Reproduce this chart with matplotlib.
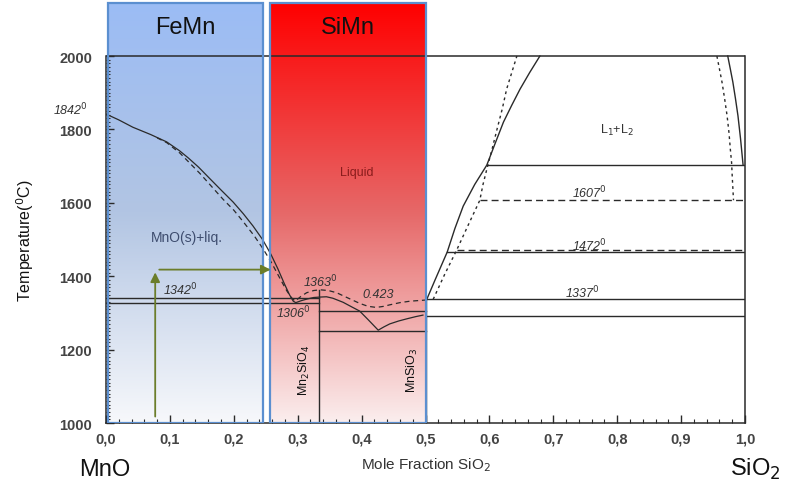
import matplotlib
matplotlib.use("Agg")
import matplotlib.pyplot as plt
from matplotlib.patches import Rectangle
from matplotlib.ticker import FixedLocator, FuncFormatter
import numpy as np

plt.rcParams['font.family'] = ['Liberation Sans', 'DejaVu Sans']

# liquidus on the MnO-rich side and across the silicates (solid)
liq_x = [0.0, 0.02, 0.042, 0.07, 0.095, 0.115, 0.129, 0.145, 0.163, 0.18, 0.199,
         0.215, 0.230, 0.245, 0.258, 0.269, 0.279, 0.287, 0.293, 0.297,
         0.305, 0.315, 0.325, 0.333, 0.345, 0.355, 0.371, 0.385, 0.397, 0.41,
         0.426, 0.435, 0.444, 0.458, 0.471, 0.485, 0.496]
liq_T = [1842, 1826, 1806, 1786, 1766, 1742, 1722, 1697, 1665, 1635, 1602,
         1570, 1537, 1500, 1460, 1420, 1380, 1350, 1332, 1328,
         1333, 1338, 1342, 1343, 1344, 1340, 1329, 1316, 1305, 1282,
         1253, 1262, 1270, 1278, 1284, 1290, 1294]

# calculated liquidus (dashed)
calc_x = [0.08, 0.095, 0.116, 0.147, 0.165, 0.183, 0.2, 0.215, 0.232, 0.246,
          0.258, 0.267, 0.276, 0.283, 0.29, 0.296, 0.305, 0.314, 0.325, 0.335,
          0.348, 0.361, 0.372, 0.382, 0.397, 0.41, 0.423, 0.435, 0.444, 0.46,
          0.476, 0.5]
calc_T = [1777, 1764, 1735, 1680, 1645, 1610, 1580, 1548, 1510, 1474,
          1440, 1411, 1382, 1360, 1342, 1332, 1345, 1355, 1361, 1363,
          1361, 1355, 1346, 1338, 1326, 1318, 1315, 1318, 1322, 1328,
          1332, 1335]

# SiO2-rich side, lower miscibility boundary
sio2_x = [0.502, 0.515, 0.534, 0.546, 0.559, 0.577, 0.596, 0.609, 0.622, 0.635,
          0.648, 0.663, 0.679]
sio2_T = [1337, 1390, 1466, 1530, 1591, 1650, 1703, 1762, 1820, 1866,
          1910, 1955, 2000]
sio2_calc_x = [0.512, 0.53, 0.549, 0.567, 0.585, 0.59, 0.596, 0.604, 0.612, 0.62,
               0.627, 0.635, 0.643]
sio2_calc_T = [1337, 1405, 1472, 1540, 1607, 1650, 1692, 1745, 1801, 1855,
               1910, 1955, 2000]

# upper miscibility boundary near pure SiO2
gap_x = [0.973, 0.977, 0.981, 0.985, 0.989, 0.993, 0.997]
gap_T = [2000, 1965, 1929, 1885, 1837, 1775, 1703]
gap_calc_x = [0.956, 0.96, 0.964, 0.968, 0.972, 0.975, 0.977, 0.979, 0.980, 0.981, 0.982]
gap_calc_T = [2000, 1965, 1929, 1885, 1837, 1790, 1747, 1710, 1673, 1640, 1607]

# invariant lines: (x start, x end, temperature)
iso_solid = [(0.0, 1/3, 1342), (0.0, 1/3, 1326), (1/3, 0.5, 1304), (1/3, 0.5, 1251),
             (0.5, 1.0, 1337), (0.5, 1.0, 1291), (0.534, 1.0, 1466), (0.596, 1.0, 1703)]
iso_dashed = [(0.549, 1.0, 1472), (0.585, 1.0, 1607)]

fig = plt.figure(figsize=(7.91, 4.89), dpi=100)
ax = fig.add_axes([106/791, 65/489, 639/791, 422/489])
ax.set_xlim(0, 1)
ax.set_ylim(1000, 2150)

# shaded composition windows for the two alloys
def gradient_box(x0, x1, stops, label):
    g = np.linspace(0, 1, 256)
    pos = [p for p, _ in stops]
    cols = np.array([matplotlib.colors.to_rgb(c) for _, c in stops])
    img = np.stack([np.interp(g, pos, cols[:, k]) for k in range(3)], axis=1)[:, None, :]
    ax.imshow(img, extent=[x0, x1, 1000, 2145], aspect='auto', origin='upper',
              zorder=1, interpolation='bilinear')
    ax.add_patch(Rectangle((x0, 1000), x1 - x0, 1145, fill=False,
                           edgecolor='#5b8fd0', lw=1.6, zorder=5))
    ax.text((x0 + x1) / 2, 2079, label, ha='center', va='center',
            fontsize=17, color='#111111', zorder=6)

gradient_box(0.003, 0.246, [(0, '#9bbcf5'), (0.5, '#b2c5e3'), (1, '#f7f8fb')], 'FeMn')
gradient_box(0.257, 0.5, [(0, '#ff0000'), (0.5, '#e66868'), (1, '#fbeeee')], 'SiMn')

lc = '#2a2a2a'
ax.plot([0, 1], [2000, 2000], color=lc, lw=1.1, zorder=2)
ax.plot(liq_x, liq_T, color=lc, lw=0.9, zorder=3)
ax.plot(calc_x, calc_T, color=lc, lw=0.9, ls=(0, (4, 3)), zorder=3)
ax.plot(sio2_x, sio2_T, color=lc, lw=1.0, zorder=3)
ax.plot(sio2_calc_x, sio2_calc_T, color=lc, lw=1.0, ls=(0, (2, 2.5)), zorder=3)
ax.plot(gap_x, gap_T, color=lc, lw=1.0, zorder=3)
ax.plot(gap_calc_x, gap_calc_T, color=lc, lw=1.0, ls=(0, (2, 2.5)), zorder=3)
for x0, x1, t in iso_solid:
    ax.plot([x0, x1], [t, t], color=lc, lw=1.0, zorder=3)
for x0, x1, t in iso_dashed:
    ax.plot([x0, x1], [t, t], color=lc, lw=1.0, ls=(0, (5, 3)), zorder=3)

# compound lines
ax.plot([1/3, 1/3], [1000, 1363], color=lc, lw=1.0, zorder=3)
ax.plot([0.5, 0.5], [1000, 1337], color=lc, lw=1.0, zorder=3)

# arrows
arrow_c = '#6b7d2a'
ax.annotate('', xy=(0.077, 1418), xytext=(0.077, 1010),
            arrowprops=dict(arrowstyle='-|>', color=arrow_c, lw=1.3,
                            mutation_scale=14), zorder=6)
ax.annotate('', xy=(0.262, 1418), xytext=(0.079, 1418),
            arrowprops=dict(arrowstyle='-|>', color=arrow_c, lw=1.3,
                            mutation_scale=14), zorder=6)

# labels
it = dict(fontsize=9, style='italic', color='#333333', ha='center', va='center', zorder=6)
ax.text(-0.055, 1856, '1842$^0$', **it)
ax.text(0.116, 1365, '1342$^0$', **it)
ax.text(0.335, 1387, '1363$^0$', **it)
ax.text(0.293, 1302, '1306$^0$', **it)
ax.text(0.426, 1351, '0.423', **it)
ax.text(0.746, 1357, '1337$^0$', **it)
ax.text(0.757, 1486, '1472$^0$', **it)
ax.text(0.757, 1630, '1607$^0$', **it)
ax.text(0.80, 1801, 'L$_1$+L$_2$', fontsize=9, color='#333333', ha='center', va='center')
ax.text(0.393, 1684, 'Liquid', fontsize=9, color='#8a1c1c', ha='center', va='center', zorder=6)
ax.text(0.127, 1507, 'MnO(s)+liq.', fontsize=10, color='#3d4c6e', ha='center', va='center', zorder=6)
ax.text(0.311, 1147, 'Mn$_2$SiO$_4$', fontsize=9, rotation=90, color='#111111',
        ha='center', va='center', zorder=6)
ax.text(0.479, 1147, 'MnSiO$_3$', fontsize=9, rotation=90, color='#111111',
        ha='center', va='center', zorder=6)

ax.text(0.5, 888, 'Mole Fraction SiO$_2$', fontsize=11, color='#333333',
        ha='center', va='center')
ax.text(-0.002, 875, 'MnO', fontsize=17, color='#111111', ha='center', va='center')
ax.text(1.016, 875, 'SiO$_2$', fontsize=17, color='#111111', ha='center', va='center')
ax.text(-0.127, 1500, 'Temperature($^0$C)', fontsize=11.5, rotation=90,
        color='#111111', ha='center', va='center')

# spines and ticks
ax.spines['top'].set_visible(False)
ax.spines['left'].set_bounds(1000, 2000)
ax.spines['right'].set_bounds(1000, 2000)
for s in ax.spines.values():
    s.set_color(lc)
    s.set_linewidth(1.1)

ax.yaxis.set_major_locator(FixedLocator(np.arange(1000, 2001, 200)))
ax.yaxis.set_minor_locator(FixedLocator(np.arange(1000, 2001, 10)))
ax.xaxis.set_major_locator(FixedLocator(np.arange(0, 1.01, 0.1)))
ax.xaxis.set_minor_locator(FixedLocator(np.arange(0, 1.001, 0.02)))
ax.xaxis.set_major_formatter(FuncFormatter(lambda v, p: f'{v:.1f}'.replace('.', ',')))
ax.tick_params(which='both', direction='in', colors=lc, labelcolor='#444444',
               labelsize=10.5, right=False, top=False)
ax.tick_params(which='major', length=6, width=1)
ax.tick_params(which='minor', length=3, width=0.8)
ax.tick_params(axis='y', pad=10)
ax.tick_params(axis='x', pad=6)
for lab in ax.get_xticklabels() + ax.get_yticklabels():
    lab.set_fontweight('bold')

fig.savefig('out.png', dpi=100)
